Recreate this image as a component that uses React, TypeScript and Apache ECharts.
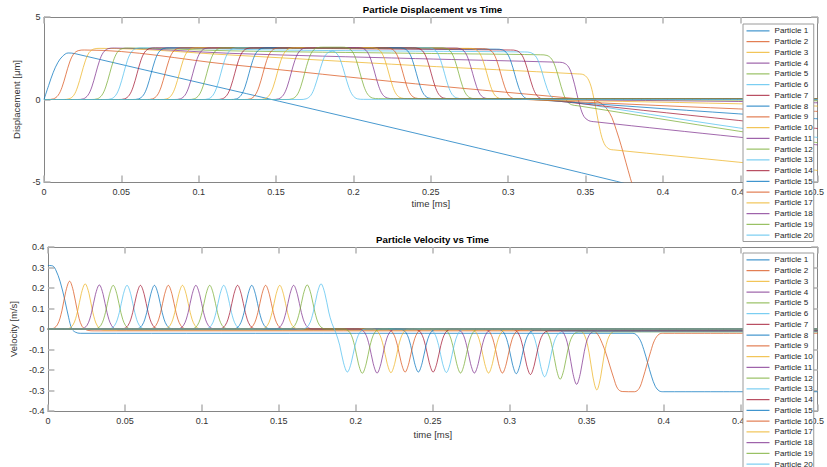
import React, { useEffect, useRef } from 'react';
import * as echarts from 'echarts';

// ---- Tick labels / axis ranges ----
const X_MIN = 0;
const X_MAX = 0.5;
const X_STEP = 0.05;
const DISP_MIN = -5;
const DISP_MAX = 5;
const DISP_STEP = 5;
const VEL_MIN = -0.4;
const VEL_MAX = 0.4;
const VEL_STEP = 0.1;

const COLORS = ['#0072BD', '#D95319', '#EDB120', '#7E2F8E', '#77AC30', '#4DBEEE', '#A2142F'];

// ---- Displacement [um] vs time [ms] ----
const D1 = [[0,0],[0.003,0.85],[0.006,1.65],[0.009,2.25],[0.012,2.62],[0.0156,2.82],[0.02,2.78],[0.37,-4.96],[0.4,-5.9]];
const D2 = [[0,0],[0.0021,0],[0.0061,0.04],[0.0091,0.25],[0.0116,0.73],[0.0141,1.5],[0.0166,2.27],[0.0191,2.75],[0.0221,2.96],[0.0261,3.0],[0.12,2.12],[0.24,0.95],[0.355,-0.05],[0.358,-0.13],[0.361,-0.3],[0.364,-0.6],[0.367,-1.1],[0.37,-1.9],[0.373,-2.8],[0.376,-3.8],[0.379,-4.8],[0.382,-5.7]];
const D3 = [[0,0],[0.0122,0],[0.0162,0.04],[0.0192,0.25],[0.0217,0.76],[0.0242,1.55],[0.0267,2.34],[0.0292,2.85],[0.0322,3.06],[0.0362,3.1],[0.12,2.7],[0.24,2.06],[0.345,1.55],[0.349,1.49],[0.352,1.17],[0.3545,0.43],[0.357,-0.75],[0.3595,-1.93],[0.362,-2.67],[0.365,-2.99],[0.369,-3.06],[0.449,-3.8],[0.5,-4.3]];
const D4 = [[0,0],[0.0214,0],[0.0254,0.04],[0.0284,0.26],[0.0309,0.76],[0.0334,1.56],[0.0359,2.36],[0.0384,2.86],[0.0414,3.08],[0.0454,3.12],[0.12,2.8],[0.24,2.48],[0.332,2.26],[0.336,2.21],[0.339,1.97],[0.3415,1.38],[0.344,0.47],[0.3465,-0.45],[0.349,-1.04],[0.352,-1.28],[0.356,-1.35],[0.449,-2.28],[0.5,-2.75]];
const D5 = [[0,0],[0.0304,0],[0.0344,0.04],[0.0374,0.26],[0.0399,0.76],[0.0424,1.56],[0.0449,2.36],[0.0474,2.86],[0.0504,3.08],[0.0544,3.12],[0.12,2.95],[0.24,2.8],[0.321,2.71],[0.325,2.67],[0.328,2.46],[0.3305,1.96],[0.333,1.18],[0.3355,0.39],[0.338,-0.11],[0.341,-0.32],[0.345,-0.38],[0.449,-1.92],[0.5,-2.62]];
const D6 = [[0,0],[0.0394,0],[0.0434,0.04],[0.0464,0.26],[0.0489,0.76],[0.0514,1.56],[0.0539,2.37],[0.0564,2.87],[0.0594,3.09],[0.0634,3.13],[0.15,3.0],[0.24,2.93],[0.3106,2.88],[0.3146,2.84],[0.3176,2.64],[0.3201,2.17],[0.3226,1.42],[0.3251,0.67],[0.3276,0.19],[0.3306,-0.01],[0.3346,-0.06],[0.449,-1.72],[0.5,-2.3]];
const D7 = [[0,0],[0.0481,0],[0.0521,0.04],[0.0551,0.26],[0.0576,0.76],[0.0601,1.56],[0.0626,2.37],[0.0651,2.87],[0.0681,3.09],[0.0721,3.13],[0.3014,3.0],[0.3054,2.96],[0.3084,2.75],[0.3109,2.27],[0.3134,1.5],[0.3159,0.73],[0.3184,0.25],[0.3214,0.04],[0.3254,-0.03],[0.449,-1.27],[0.5,-1.76]];
const D8 = [[0,0],[0.0572,0],[0.0612,0.04],[0.0642,0.26],[0.0667,0.76],[0.0692,1.56],[0.0717,2.37],[0.0742,2.87],[0.0772,3.09],[0.0812,3.13],[0.2922,3.05],[0.2962,3.01],[0.2992,2.8],[0.3017,2.31],[0.3042,1.53],[0.3067,0.74],[0.3092,0.25],[0.3122,0.04],[0.3162,0],[0.449,-0.87],[0.5,-1.17]];
const D9 = [[0,0],[0.0662,0],[0.0702,0.04],[0.0732,0.26],[0.0757,0.76],[0.0782,1.56],[0.0807,2.37],[0.0832,2.87],[0.0862,3.09],[0.0902,3.13],[0.2832,3.08],[0.2872,3.04],[0.2902,2.83],[0.2927,2.33],[0.2952,1.55],[0.2977,0.77],[0.3002,0.27],[0.3032,0.06],[0.3072,0.02],[0.449,-0.57],[0.5,-0.72]];
const D10 = [[0,0],[0.0754,0],[0.0794,0.04],[0.0824,0.26],[0.0849,0.76],[0.0874,1.56],[0.0899,2.37],[0.0924,2.87],[0.0954,3.09],[0.0994,3.13],[0.2742,3.1],[0.2782,3.06],[0.2812,2.85],[0.2837,2.35],[0.2862,1.57],[0.2887,0.78],[0.2912,0.28],[0.2942,0.07],[0.2982,0.03],[0.449,-0.26],[0.5,-0.4]];
const D11 = [[0,0],[0.0841,0],[0.0881,0.04],[0.0911,0.26],[0.0936,0.76],[0.0961,1.56],[0.0986,2.37],[0.1011,2.87],[0.1041,3.09],[0.1081,3.13],[0.265,3.12],[0.269,3.08],[0.272,2.87],[0.2745,2.37],[0.277,1.58],[0.2795,0.79],[0.282,0.29],[0.285,0.08],[0.289,0.04],[0.449,-0.12],[0.5,-0.2]];
const D12 = [[0,0],[0.0931,0],[0.0971,0.04],[0.1001,0.26],[0.1026,0.76],[0.1051,1.56],[0.1076,2.37],[0.1101,2.87],[0.1131,3.09],[0.1171,3.13],[0.256,3.13],[0.26,3.09],[0.263,2.88],[0.2655,2.38],[0.268,1.59],[0.2705,0.79],[0.273,0.29],[0.276,0.08],[0.28,0.04],[0.449,-0.04],[0.5,-0.08]];
const D13 = [[0,0],[0.1022,0],[0.1062,0.04],[0.1092,0.26],[0.1117,0.76],[0.1142,1.56],[0.1167,2.37],[0.1192,2.87],[0.1222,3.09],[0.1262,3.13],[0.2468,3.13],[0.2508,3.09],[0.2538,2.88],[0.2563,2.38],[0.2588,1.59],[0.2613,0.8],[0.2638,0.3],[0.2668,0.09],[0.2708,0.05],[0.5,0]];
const D14 = [[0,0],[0.1112,0],[0.1152,0.04],[0.1182,0.26],[0.1207,0.76],[0.1232,1.56],[0.1257,2.37],[0.1282,2.87],[0.1312,3.09],[0.1352,3.13],[0.2382,3.13],[0.2422,3.09],[0.2452,2.88],[0.2477,2.38],[0.2502,1.59],[0.2527,0.8],[0.2552,0.3],[0.2582,0.09],[0.2622,0.05],[0.5,0.02]];
const D15 = [[0,0],[0.1204,0],[0.1244,0.04],[0.1274,0.26],[0.1299,0.76],[0.1324,1.56],[0.1349,2.37],[0.1374,2.87],[0.1404,3.09],[0.1444,3.13],[0.2286,3.13],[0.2326,3.09],[0.2356,2.88],[0.2381,2.38],[0.2406,1.59],[0.2431,0.8],[0.2456,0.3],[0.2486,0.09],[0.2526,0.05],[0.5,0.03]];
const D16 = [[0,0],[0.1294,0],[0.1334,0.04],[0.1364,0.26],[0.1389,0.76],[0.1414,1.56],[0.1439,2.37],[0.1464,2.87],[0.1494,3.09],[0.1534,3.13],[0.22,3.13],[0.224,3.09],[0.227,2.88],[0.2295,2.38],[0.232,1.59],[0.2345,0.8],[0.237,0.3],[0.24,0.09],[0.244,0.05],[0.5,0.04]];
const D17 = [[0,0],[0.1386,0],[0.1426,0.04],[0.1456,0.26],[0.1481,0.76],[0.1506,1.56],[0.1531,2.37],[0.1556,2.87],[0.1586,3.09],[0.1626,3.13],[0.2108,3.14],[0.2148,3.1],[0.2178,2.89],[0.2203,2.39],[0.2228,1.6],[0.2253,0.8],[0.2278,0.3],[0.2308,0.09],[0.2348,0.05],[0.5,0.04]];
const D18 = [[0,0],[0.1476,0],[0.1516,0.04],[0.1546,0.26],[0.1571,0.76],[0.1596,1.56],[0.1621,2.37],[0.1646,2.87],[0.1676,3.09],[0.1716,3.13],[0.2018,3.15],[0.2058,3.11],[0.2088,2.9],[0.2113,2.4],[0.2138,1.6],[0.2163,0.8],[0.2188,0.3],[0.2218,0.09],[0.2258,0.05],[0.5,0.05]];
const D19 = [[0,0],[0.1564,0],[0.1604,0.04],[0.1634,0.26],[0.1659,0.77],[0.1684,1.59],[0.1709,2.4],[0.1734,2.91],[0.1764,3.13],[0.1804,3.17],[0.1922,3.17],[0.1962,3.13],[0.1992,2.91],[0.2017,2.41],[0.2042,1.61],[0.2067,0.81],[0.2092,0.31],[0.2122,0.09],[0.2162,0.05],[0.5,0.04]];
const D20 = [[0,0],[0.1654,0],[0.1694,0.04],[0.1724,0.25],[0.1749,0.74],[0.1774,1.5],[0.1799,2.27],[0.1824,2.75],[0.1865,2.93],[0.1895,2.75],[0.192,2.27],[0.1945,1.5],[0.197,0.73],[0.1995,0.25],[0.2025,0.04],[0.2065,0.01],[0.5,0]];

// ---- Velocity [m/s] vs time [ms] ----
const V1 = [[0,0.31],[0.003,0.308],[0.005,0.29],[0.008,0.23],[0.011,0.14],[0.0135,0.055],[0.0156,0],[0.018,-0.016],[0.021,-0.021],[0.38,-0.021],[0.384,-0.045],[0.387,-0.1],[0.3895,-0.165],[0.392,-0.23],[0.3945,-0.28],[0.397,-0.302],[0.4,-0.306],[0.5,-0.306]];
const V2 = [[0,0],[0.0021,0],[0.0061,0.02],[0.0091,0.089],[0.0116,0.183],[0.0141,0.233],[0.0166,0.183],[0.0191,0.089],[0.0221,0.014],[0.0261,-0.007],[0.03,-0.009],[0.354,-0.009],[0.357,-0.025],[0.36,-0.07],[0.3625,-0.12],[0.365,-0.18],[0.3675,-0.24],[0.37,-0.29],[0.373,-0.305],[0.381,-0.306],[0.384,-0.29],[0.3865,-0.24],[0.389,-0.175],[0.3915,-0.11],[0.394,-0.055],[0.397,-0.025],[0.4,-0.021],[0.5,-0.021]];
const V3 = [[0,0],[0.0122,0],[0.0162,0.019],[0.0192,0.084],[0.0217,0.173],[0.0242,0.22],[0.0267,0.173],[0.0292,0.08],[0.0322,0.014],[0.0362,-0.005],[0.3445,-0.005],[0.3485,-0.03],[0.3515,-0.116],[0.354,-0.234],[0.3565,-0.297],[0.359,-0.234],[0.3615,-0.117],[0.3645,-0.035],[0.3685,-0.01],[0.5,-0.0097]];
const V4 = [[0,0],[0.0214,0],[0.0254,0.018],[0.0284,0.082],[0.0309,0.169],[0.0334,0.215],[0.0359,0.168],[0.0384,0.08],[0.0414,0.016],[0.0454,-0.003],[0.3314,-0.003],[0.3354,-0.026],[0.3384,-0.105],[0.3409,-0.213],[0.3434,-0.27],[0.3459,-0.214],[0.3484,-0.109],[0.3514,-0.032],[0.3554,-0.01],[0.5,-0.01]];
const V5 = [[0,0],[0.0304,0],[0.0344,0.018],[0.0374,0.081],[0.0399,0.167],[0.0424,0.213],[0.0449,0.167],[0.0474,0.08],[0.0504,0.017],[0.0544,-0.0015],[0.3207,-0.0015],[0.3247,-0.022],[0.3277,-0.094],[0.3302,-0.193],[0.3327,-0.245],[0.3352,-0.196],[0.3377,-0.102],[0.3407,-0.034],[0.3447,-0.014],[0.5,-0.014]];
const V6 = [[0,0],[0.0394,0],[0.0434,0.018],[0.0464,0.081],[0.0489,0.167],[0.0514,0.213],[0.0539,0.167],[0.0564,0.081],[0.0594,0.017],[0.0634,-0.001],[0.3106,-0.001],[0.3146,-0.021],[0.3176,-0.089],[0.3201,-0.183],[0.3226,-0.233],[0.3251,-0.186],[0.3276,-0.097],[0.3306,-0.032],[0.3346,-0.013],[0.5,-0.013]];
const V7 = [[0,0],[0.0481,0],[0.0521,0.018],[0.0551,0.081],[0.0576,0.167],[0.0601,0.213],[0.0626,0.167],[0.0651,0.081],[0.0681,0.018],[0.0721,0],[0.3014,0],[0.3054,-0.019],[0.3084,-0.085],[0.3109,-0.175],[0.3134,-0.222],[0.3159,-0.176],[0.3184,-0.09],[0.3214,-0.027],[0.3254,-0.009],[0.5,-0.009]];
const V8 = [[0,0],[0.0572,0],[0.0612,0.018],[0.0642,0.081],[0.0667,0.167],[0.0692,0.213],[0.0717,0.167],[0.0742,0.081],[0.0772,0.018],[0.0812,0],[0.2922,0],[0.2962,-0.019],[0.2992,-0.083],[0.3017,-0.171],[0.3042,-0.218],[0.3067,-0.173],[0.3092,-0.087],[0.3122,-0.024],[0.3162,-0.006],[0.5,-0.006]];
const V9 = [[0,0],[0.0662,0],[0.0702,0.018],[0.0732,0.081],[0.0757,0.167],[0.0782,0.213],[0.0807,0.167],[0.0832,0.081],[0.0862,0.018],[0.0902,0],[0.2832,0],[0.2872,-0.018],[0.2902,-0.082],[0.2927,-0.169],[0.2952,-0.215],[0.2977,-0.17],[0.3002,-0.085],[0.3032,-0.022],[0.3072,-0.004],[0.5,-0.004]];
const V10 = [[0,0],[0.0754,0],[0.0794,0.018],[0.0824,0.081],[0.0849,0.167],[0.0874,0.213],[0.0899,0.167],[0.0924,0.081],[0.0954,0.018],[0.0994,0],[0.2742,0],[0.2782,-0.018],[0.2812,-0.082],[0.2837,-0.169],[0.2862,-0.215],[0.2887,-0.169],[0.2912,-0.083],[0.2942,-0.02],[0.2982,-0.002],[0.5,-0.002]];
const V11 = [[0,0],[0.0841,0],[0.0881,0.018],[0.0911,0.081],[0.0936,0.167],[0.0961,0.213],[0.0986,0.167],[0.1011,0.081],[0.1041,0.018],[0.1081,0],[0.265,0],[0.269,-0.018],[0.272,-0.082],[0.2745,-0.169],[0.277,-0.215],[0.2795,-0.169],[0.282,-0.082],[0.285,-0.019],[0.289,-0.001],[0.5,-0.001]];
const V12 = [[0,0],[0.0931,0],[0.0971,0.018],[0.1001,0.081],[0.1026,0.167],[0.1051,0.213],[0.1076,0.167],[0.1101,0.081],[0.1131,0.018],[0.1171,0],[0.256,0],[0.26,-0.018],[0.263,-0.082],[0.2655,-0.169],[0.268,-0.215],[0.2705,-0.169],[0.273,-0.082],[0.276,-0.018],[0.28,0],[0.5,0]];
const V13 = [[0,0],[0.1022,0],[0.1062,0.018],[0.1092,0.081],[0.1117,0.167],[0.1142,0.213],[0.1167,0.167],[0.1192,0.081],[0.1222,0.018],[0.1262,0],[0.2468,0],[0.2508,-0.018],[0.2538,-0.081],[0.2563,-0.167],[0.2588,-0.212],[0.2613,-0.167],[0.2638,-0.081],[0.2668,-0.018],[0.2708,0],[0.5,0]];
const V14 = [[0,0],[0.1112,0],[0.1152,0.018],[0.1182,0.081],[0.1207,0.167],[0.1232,0.213],[0.1257,0.167],[0.1282,0.081],[0.1312,0.018],[0.1352,0],[0.2382,0],[0.2422,-0.018],[0.2452,-0.08],[0.2477,-0.165],[0.2502,-0.21],[0.2527,-0.165],[0.2552,-0.08],[0.2582,-0.018],[0.2622,0],[0.5,0]];
const V15 = [[0,0],[0.1204,0],[0.1244,0.018],[0.1274,0.081],[0.1299,0.167],[0.1324,0.213],[0.1349,0.167],[0.1374,0.081],[0.1404,0.018],[0.1444,0],[0.2286,0],[0.2326,-0.018],[0.2356,-0.08],[0.2381,-0.165],[0.2406,-0.21],[0.2431,-0.165],[0.2456,-0.08],[0.2486,-0.018],[0.2526,0],[0.5,0]];
const V16 = [[0,0],[0.1294,0],[0.1334,0.018],[0.1364,0.081],[0.1389,0.167],[0.1414,0.213],[0.1439,0.167],[0.1464,0.081],[0.1494,0.018],[0.1534,0],[0.22,0],[0.224,-0.018],[0.227,-0.08],[0.2295,-0.165],[0.232,-0.21],[0.2345,-0.165],[0.237,-0.08],[0.24,-0.018],[0.244,0],[0.5,0]];
const V17 = [[0,0],[0.1386,0],[0.1426,0.018],[0.1456,0.081],[0.1481,0.167],[0.1506,0.213],[0.1531,0.167],[0.1556,0.081],[0.1586,0.018],[0.1626,0],[0.2108,0],[0.2148,-0.018],[0.2178,-0.081],[0.2203,-0.167],[0.2228,-0.213],[0.2253,-0.167],[0.2278,-0.081],[0.2308,-0.018],[0.2348,0],[0.5,0]];
const V18 = [[0,0],[0.1476,0],[0.1516,0.018],[0.1546,0.081],[0.1571,0.167],[0.1596,0.213],[0.1621,0.167],[0.1646,0.081],[0.1676,0.018],[0.1716,0],[0.2018,0],[0.2058,-0.018],[0.2088,-0.082],[0.2113,-0.169],[0.2138,-0.215],[0.2163,-0.169],[0.2188,-0.082],[0.2218,-0.018],[0.2258,0],[0.5,0]];
const V19 = [[0,0],[0.1564,0],[0.1604,0.018],[0.1634,0.082],[0.1659,0.169],[0.1684,0.215],[0.1709,0.169],[0.1734,0.082],[0.1764,0.018],[0.1804,0],[0.1922,0],[0.1962,-0.018],[0.1992,-0.082],[0.2017,-0.17],[0.2042,-0.216],[0.2067,-0.17],[0.2092,-0.082],[0.2122,-0.018],[0.2162,0],[0.5,0]];
const V20 = [[0,0],[0.1654,0],[0.1694,0.019],[0.1724,0.084],[0.1749,0.173],[0.1774,0.22],[0.1799,0.173],[0.1824,0.083],[0.1845,0.027],[0.187,-0.018],[0.1895,-0.079],[0.192,-0.165],[0.1945,-0.21],[0.197,-0.165],[0.1995,-0.08],[0.2025,-0.018],[0.2065,0],[0.5,0]];

const DISP = [D1, D2, D3, D4, D5, D6, D7, D8, D9, D10, D11, D12, D13, D14, D15, D16, D17, D18, D19, D20];
const VEL = [V1, V2, V3, V4, V5, V6, V7, V8, V9, V10, V11, V12, V13, V14, V15, V16, V17, V18, V19, V20];
const NAMES = DISP.map((_, i) => `Particle ${i + 1}`);

const TITLE_TOP = 'Particle Displacement vs Time';
const TITLE_BOTTOM = 'Particle Velocity vs Time';
const X_NAME = 'time [ms]';
const Y_NAME_TOP = 'Displacement [μm]';
const Y_NAME_BOTTOM = 'Velocity [m/s]';

const FONT = '"Liberation Sans", Arial, Helvetica, sans-serif';
const FRAME = '#858585';
const TICK = '#b2b2b2';
const TXT = '#333333';

function xAxis(gridIndex: number, position: string, labels: boolean, nameGap: number) {
  return {
    type: 'value',
    gridIndex,
    position,
    min: X_MIN,
    max: X_MAX,
    interval: X_STEP,
    axisLine: { show: true, onZero: false, lineStyle: { color: FRAME, width: 1 } },
    axisTick: { show: true, inside: true, length: 6.5, lineStyle: { color: TICK, width: 1.5 } },
    axisLabel: {
      show: labels,
      margin: 5.5,
      fontSize: 9,
      color: TXT,
      fontFamily: FONT,
      formatter: (v: number) => String(Number(v.toFixed(2))),
    },
    splitLine: { show: false },
    name: labels ? X_NAME : '',
    nameLocation: 'middle',
    nameGap,
    nameTextStyle: { fontSize: 9.5, color: TXT, fontFamily: FONT },
  };
}

function yAxis(gridIndex: number, position: string, labels: boolean, min: number, max: number, interval: number, name: string, nameGap: number) {
  return {
    type: 'value',
    gridIndex,
    position,
    min,
    max,
    interval,
    axisLine: { show: true, onZero: false, lineStyle: { color: FRAME, width: 1 } },
    axisTick: { show: true, inside: true, length: 6.5, lineStyle: { color: TICK, width: 1.5 } },
    axisLabel: {
      show: labels,
      margin: 3.5,
      fontSize: 9,
      color: TXT,
      fontFamily: FONT,
      formatter: (v: number) => String(Number(v.toFixed(1)) || 0),
    },
    splitLine: { show: false },
    name: labels ? name : '',
    nameLocation: 'middle',
    nameGap,
    nameTextStyle: { fontSize: 9.5, color: TXT, fontFamily: FONT },
  };
}

function legend(top: number) {
  return {
    show: true,
    orient: 'vertical',
    left: 743,
    top,
    height: 260,
    itemWidth: 23,
    itemHeight: 1.2,
    itemGap: 0,
    icon: 'rect',
    padding: [1.5, 1, 1, 3.5],
    backgroundColor: '#ffffff',
    borderColor: '#9a9a9a',
    borderWidth: 1,
    selectedMode: false,
    itemStyle: { opacity: 0.75 },
    textStyle: { fontSize: 8.1, lineHeight: 10.75, color: '#262626', fontFamily: FONT },
    data: NAMES,
  };
}

export default function App() {
  const ref = useRef<HTMLDivElement>(null);
  useEffect(() => {
    if (!ref.current) return;
    const chart = echarts.init(ref.current, null, { renderer: 'svg' });
    const series: any[] = [];
    DISP.forEach((d, i) => {
      series.push({
        type: 'line',
        name: NAMES[i],
        xAxisIndex: 0,
        yAxisIndex: 0,
        data: d,
        showSymbol: false,
        symbol: 'none',
        smooth: 0.35,
        clip: true,
        color: COLORS[i % 7],
        lineStyle: { width: 1, opacity: 0.72 },
      });
    });
    VEL.forEach((d, i) => {
      series.push({
        type: 'line',
        name: NAMES[i],
        xAxisIndex: 2,
        yAxisIndex: 2,
        data: d,
        showSymbol: false,
        symbol: 'none',
        smooth: 0.35,
        clip: true,
        color: COLORS[i % 7],
        lineStyle: { width: 1, opacity: 0.72 },
      });
    });
    const option: any = {
      animation: false,
      backgroundColor: '#ffffff',
      grid: [
        { left: 44, top: 17, width: 777, height: 165, containLabel: false },
        { left: 44, top: 247, width: 777, height: 164, containLabel: false },
      ],
      xAxis: [
        xAxis(0, 'bottom', true, 16.25),
        xAxis(0, 'top', false, 0),
        xAxis(1, 'bottom', true, 18.25),
        xAxis(1, 'top', false, 0),
      ],
      yAxis: [
        yAxis(0, 'left', true, DISP_MIN, DISP_MAX, DISP_STEP, Y_NAME_TOP, 14.25),
        yAxis(0, 'right', false, DISP_MIN, DISP_MAX, DISP_STEP, '', 0),
        yAxis(1, 'left', true, VEL_MIN, VEL_MAX, VEL_STEP, Y_NAME_BOTTOM, 21.25),
        yAxis(1, 'right', false, VEL_MIN, VEL_MAX, VEL_STEP, '', 0),
      ],
      legend: [legend(24), legend(253)],
      graphic: [
        {
          type: 'text',
          x: 432.5,
          y: 9.7,
          style: { text: TITLE_TOP, fill: '#000', font: `bold 9.7px ${FONT}`, textAlign: 'center', verticalAlign: 'middle' },
        },
        {
          type: 'text',
          x: 432.5,
          y: 239.2,
          style: { text: TITLE_BOTTOM, fill: '#000', font: `bold 9.7px ${FONT}`, textAlign: 'center', verticalAlign: 'middle' },
        },
      ],
      series,
    };
    chart.setOption(option);
    return () => chart.dispose();
  }, []);
  return <div ref={ref} style={{ position: 'fixed', left: 0, top: 0, width: 827, height: 467, background: '#fff' }} />;
}
